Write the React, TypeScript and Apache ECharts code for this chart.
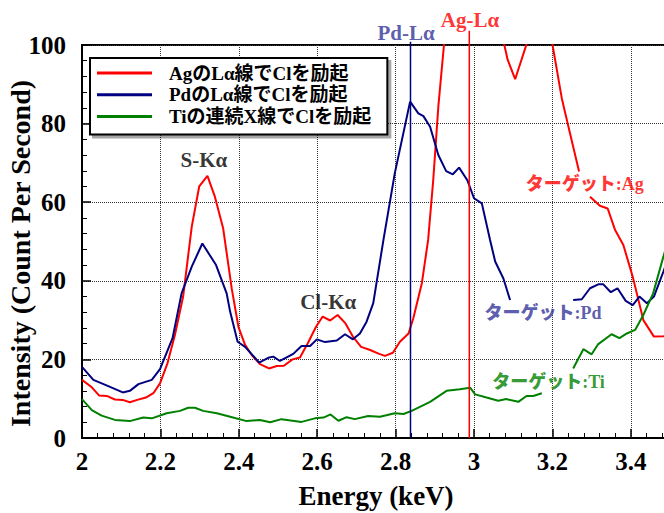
import React, { useEffect, useRef } from "react";
import * as echarts from "echarts";

const FONT = "'Liberation Serif', 'Times New Roman', 'Noto Sans CJK JP', serif";

// Ag target (red)
const agEnergy = [2.0, 2.025, 2.044, 2.063, 2.084, 2.104, 2.122, 2.141, 2.163, 2.182, 2.199, 2.218, 2.237, 2.258, 2.28, 2.299, 2.32, 2.339, 2.36, 2.382, 2.399, 2.416, 2.433, 2.454, 2.477, 2.497, 2.515, 2.537, 2.556, 2.576, 2.597, 2.614, 2.633, 2.652, 2.671, 2.691, 2.712, 2.735, 2.758, 2.773, 2.793, 2.811, 2.833, 2.845, 2.867, 2.883, 2.896, 2.909, 2.923, 2.94, 2.96, 2.98, 3.0, 3.02, 3.04, 3.06, 3.077, 3.086, 3.105, 3.134, 3.15, 3.17, 3.19, 3.2, 3.224, 3.245, 3.268, 3.282, 3.296, 3.321, 3.341, 3.36, 3.381, 3.405, 3.432, 3.459, 3.483, 3.5];
const agCounts = [14.8, 12.9, 10.8, 10.7, 9.8, 9.7, 9.1, 9.7, 10.3, 11.4, 13.9, 19.0, 26.2, 36.0, 53.8, 64.0, 66.7, 61.4, 53.4, 38.0, 28.3, 23.7, 21.1, 18.8, 17.7, 18.3, 18.4, 20.0, 20.5, 24.1, 28.3, 30.9, 29.9, 31.3, 29.3, 25.8, 23.2, 22.4, 21.4, 20.9, 21.7, 24.5, 26.6, 30.4, 39.4, 50.4, 65.6, 84.3, 99.6, 125, 160, 190, 180, 150, 125, 110, 100.2, 96.2, 91.3, 100.2, 106, 108, 104, 100.2, 86.4, 77.5, 67.8, null, 61.4, 59.1, 58.4, 52.9, 49.1, 41.0, 30.0, 25.8, 25.9, 26.0];

// Pd target (navy)
const pdEnergy = [2.0, 2.029, 2.067, 2.104, 2.122, 2.144, 2.178, 2.199, 2.231, 2.254, 2.28, 2.307, 2.342, 2.369, 2.378, 2.397, 2.416, 2.452, 2.475, 2.488, 2.505, 2.539, 2.56, 2.582, 2.599, 2.62, 2.65, 2.671, 2.691, 2.709, 2.726, 2.743, 2.769, 2.798, 2.837, 2.858, 2.871, 2.888, 2.909, 2.929, 2.946, 2.962, 2.983, 3.0, 3.02, 3.041, 3.054, 3.075, 3.092, 3.17, 3.253, 3.275, 3.296, 3.317, 3.33, 3.349, 3.366, 3.387, 3.405, 3.422, 3.441, 3.459, 3.483, 3.5];
const pdCounts = [18.1, 14.8, 13.2, 11.6, 12.0, 13.7, 14.8, 17.5, 25.4, 36.8, 43.6, 49.5, 44.0, 36.8, 32.1, 24.5, 23.2, 19.2, 20.4, 20.7, 19.6, 21.4, 23.4, 23.4, 25.1, 24.4, 24.8, 26.4, 25.1, 26.6, 29.6, 34.3, 50.4, 67.4, 85.6, 82.6, 81.9, 79.2, 72.0, 67.9, 67.1, 68.8, 65.6, 61.0, 59.7, 50.4, 44.9, 40.6, 35.1, null, 35.1, 35.3, 38.1, 39.1, 39.1, 37.1, 38.1, 34.9, 33.8, 36.0, 34.3, 36.0, 42.3, 47.0];

// Ti target (green)
const tiEnergy = [2.0, 2.025, 2.05, 2.084, 2.122, 2.156, 2.178, 2.216, 2.25, 2.271, 2.288, 2.309, 2.344, 2.378, 2.42, 2.454, 2.48, 2.509, 2.56, 2.594, 2.616, 2.634, 2.654, 2.675, 2.696, 2.73, 2.76, 2.798, 2.82, 2.841, 2.888, 2.93, 2.964, 2.99, 3.003, 3.032, 3.062, 3.082, 3.113, 3.134, 3.151, 3.173, 3.21, 3.253, 3.279, 3.3, 3.317, 3.351, 3.371, 3.39, 3.411, 3.432, 3.457, 3.483, 3.5];
const tiCounts = [9.9, 7.1, 5.7, 4.6, 4.3, 5.2, 5.0, 6.3, 6.9, 7.7, 7.7, 6.9, 6.3, 5.4, 4.3, 4.6, 4.0, 4.8, 4.1, 5.0, 5.2, 6.0, 4.4, 5.3, 4.8, 5.6, 5.4, 6.3, 6.1, 6.9, 9.2, 12.0, 12.4, 12.8, 11.1, 10.3, 9.5, 9.9, 9.2, 10.7, 10.7, 11.4, null, 17.7, 22.6, 21.3, 23.9, 26.4, 25.4, 26.6, 27.5, 31.3, 36.8, 46.1, 52.0];

const seriesNames = ["AgのLα線でClを励起", "PdのLα線でClを励起", "Tiの連続X線でClを励起"];

// Characteristic lines (keV) and top of their marker lines (counts)
const lineNames = ["Pd-Lα", "Ag-Lα"];
const lineEnergy = [2.838, 2.988];
const lineTop = [100.8, 103.6];

// Annotation texts and their anchors (keV, counts)
const noteTexts = ["S-Kα", "Cl-Kα", "Pd-Lα", "Ag-Lα", "ターゲット:Ag", "ターゲット:Pd", "ターゲット:Ti"];
const noteEnergy = [2.311, 2.628, 2.8265, 2.9898, 3.2824, 3.176, 3.19];
const noteCounts = [70.7, 34.7, 103.05, 106.4, 64.6, 31.8, 14.2];

const xTicks = { min: 2, max: 3.5, interval: 0.2 };
const yTicks = { min: 0, max: 100, interval: 20 };

const RED = "#ff0000";
const NAVY = "#000080";
const GREEN = "#008000";
const noteColors = ["#000000", "#000000", "#333399", "#ff0000", "#ff0000", "#333399", "#008000"];
const noteSizes = [21, 21, 21, 21, 18, 18, 18];
const noteWeights = ["bold", "bold", "bold", "bold", 900, 900, 900];

function pairs(xs: number[], ys: (number | null)[]) {
  return xs.map((x, i) => [x, ys[i] === null ? "-" : ys[i]]);
}

export default function App() {
  const ref = useRef<HTMLDivElement>(null);
  useEffect(() => {
    if (!ref.current) return;
    const chart = echarts.init(ref.current, null, { renderer: "svg" });
    const axisCommon = {
      type: "value" as const,
      axisLine: { show: true, onZero: false, lineStyle: { color: "#000", width: 2 } },
      axisTick: { show: true, inside: true, length: 9, lineStyle: { color: "#000", width: 1.5 } },
      minorTick: { show: true, splitNumber: 5, length: 5, lineStyle: { color: "#000", width: 1 } },
      axisLabel: { fontSize: 25, fontWeight: "bold" as const, color: "#000", fontFamily: FONT, showMaxLabel: false },
      splitLine: { show: true, lineStyle: { type: "dotted" as const, color: "#333", width: 1 } },
      nameLocation: "middle" as const,
      nameMoveOverlap: false,
      nameTextStyle: { fontSize: 27, fontWeight: "bold" as const, color: "#000", fontFamily: FONT },
    };
    const curve = (name: string, color: string, xs: number[], ys: (number | null)[]) => ({
      name,
      type: "line",
      data: pairs(xs, ys),
      symbol: "none",
      connectNulls: false,
      lineStyle: { color, width: 2 },
      itemStyle: { color },
      z: 3,
    });
    const markerColors = [NAVY, RED];
    const option: any = {
      animation: false,
      backgroundColor: "#ffffff",
      textStyle: { fontFamily: FONT },
      grid: {
        left: 82, top: 45, width: 588, height: 393,
        show: true, borderColor: "#000", borderWidth: 2, backgroundColor: "transparent",
        containLabel: false, outerBoundsMode: "none",
      },
      xAxis: {
        ...axisCommon,
        min: xTicks.min,
        max: xTicks.max,
        interval: xTicks.interval,
        name: "Energy (keV)",
        nameGap: 44,
        axisLabel: { ...axisCommon.axisLabel, margin: 11 },
      },
      yAxis: {
        ...axisCommon,
        min: yTicks.min,
        max: yTicks.max,
        interval: yTicks.interval,
        name: "Intensity (Count Per Second)",
        nameGap: 48,
        nameTextStyle: { ...axisCommon.nameTextStyle, fontSize: 28, padding: [0, 24, 0, 0] },
        axisLabel: { ...axisCommon.axisLabel, margin: 16, showMaxLabel: true },
      },
      legend: {
        orient: "vertical",
        left: 90,
        top: 58,
        data: seriesNames,
        icon: "rect",
        itemWidth: 55,
        itemHeight: 3,
        itemGap: 1.7,
        padding: [5, 16, 8, 7],
        borderColor: "#000",
        borderWidth: 2,
        backgroundColor: "#fff",
        shadowColor: "rgba(0,0,0,0.35)",
        shadowOffsetX: 3,
        shadowOffsetY: 3,
        shadowBlur: 1,
        selectedMode: false,
        textStyle: { fontSize: 19, fontWeight: "bold", color: "#000", fontFamily: FONT, lineHeight: 20, padding: [0, 0, 0, 12] },
      },
      series: [
        curve(seriesNames[0], RED, agEnergy, agCounts),
        curve(seriesNames[1], NAVY, pdEnergy, pdCounts),
        curve(seriesNames[2], GREEN, tiEnergy, tiCounts),
        ...lineNames.map((n, i) => ({
          name: n + " line",
          type: "line",
          clip: false,
          symbol: "none",
          data: [[lineEnergy[i], 0], [lineEnergy[i], lineTop[i]]],
          lineStyle: { color: markerColors[i], width: 1.5 },
          z: 4,
          silent: true,
        })),
        {
          name: "notes",
          type: "scatter",
          clip: false,
          silent: true,
          symbolSize: 1,
          itemStyle: { color: "rgba(0,0,0,0)" },
          z: 5,
          data: noteTexts.map((t, i) => ({
            name: t,
            value: [noteEnergy[i], noteCounts[i]],
            label: {
              show: true,
              position: "inside",
              formatter: "{b}",
              color: noteColors[i],
              fontSize: noteSizes[i],
              fontWeight: noteWeights[i],
              fontFamily: FONT,
            },
          })),
        },
      ],
    };
    chart.setOption(option);
    return () => chart.dispose();
  }, []);
  return <div ref={ref} style={{ position: "fixed", left: 0, top: 0, width: 664, height: 513 }} />;
}
